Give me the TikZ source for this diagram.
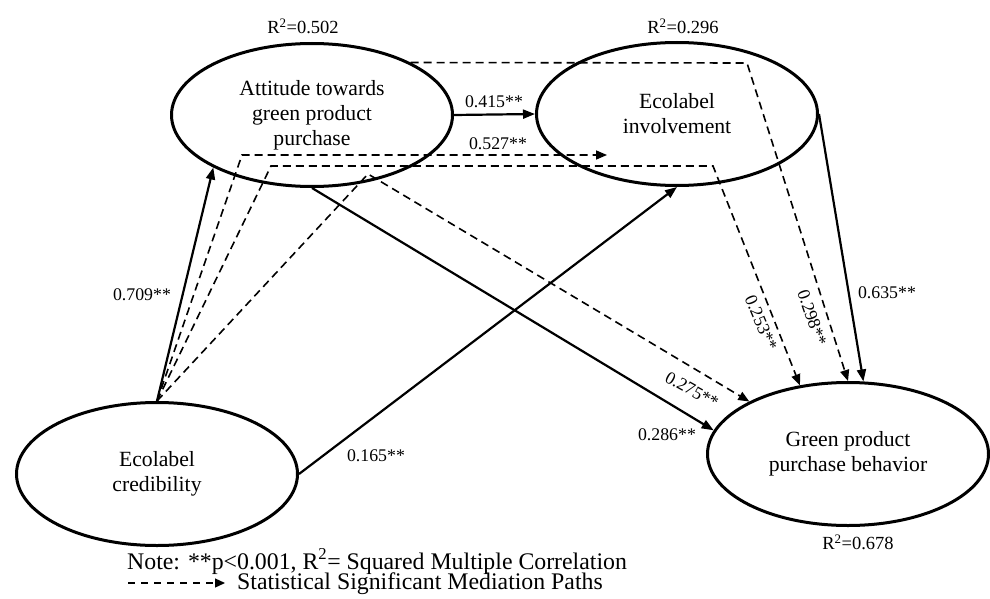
\documentclass[tikz,border=0pt]{standalone}
\usepackage{fontspec}
\setmainfont{Liberation Serif}
\usetikzlibrary{arrows.meta,shapes.geometric}
\tikzset{
  latent/.style={ellipse, draw, line width=3pt, minimum width=281pt, minimum height=143pt, inner sep=0pt, align=center, font=\fontsize{21.7}{25}\selectfont},
  solidpath/.style={line width=2.2pt, -{Triangle[length=12pt,width=9pt]}},
  medpath/.style={line width=1.6pt, dash pattern=on 8pt off 5pt, -{Triangle[length=11pt,width=9pt]}},
  coef/.style={font=\fontsize{17.8}{20}\selectfont, inner sep=0pt},
  rsq/.style={font=\fontsize{18.5}{20}\selectfont, inner sep=0pt},
  notetext/.style={font=\fontsize{23.8}{26}\selectfont, inner sep=0pt, anchor=base west}
}
\begin{document}
\begin{tikzpicture}[x=1pt,y=-1pt]
\useasboundingbox (0,0) rectangle (990,599);
% latent variables
\node[latent] (A) at (312,115) {Attitude towards\\green product\\purchase};
\node[latent] (I) at (677,114) {Ecolabel\\involvement};
\node[latent] (C) at (157,474) {Ecolabel\\credibility};
\node[latent] (G) at (848,454) {Green product\\purchase behavior};
% R squared
\node[rsq] (rA) at (303,26) {R\textsuperscript{2}=0.502};
\node[rsq] (rI) at (683,26) {R\textsuperscript{2}=0.296};
\node[rsq] (rG) at (858,542) {R\textsuperscript{2}=0.678};
% corner coordinates of mediation paths
\coordinate (k1) at (242,155);
\coordinate (e1) at (607,155);
\coordinate (k2) at (271,166);
\coordinate (m2) at (713,166);
\coordinate (k3) at (368,174);
\coordinate (m4) at (747,63);
% solid paths
\draw[solidpath] (A.east) -- (I.west);
\draw[solidpath] (C.north) -- (A.208);
\draw[solidpath] (C.east) -- (I.south);
\draw[solidpath] (A.south) -- (G.170.6);
\draw[solidpath] (I.east) -- (G.78);
% mediation paths
\draw[medpath] (C.north) -- (k1) -- (e1);
\draw[medpath] (C.north) -- (k2) -- (m2) -- (G.125);
\draw[medpath] (C.north) -- (k3) -- (G.152);
\draw[medpath] (A.28) -- (m4) -- (G.north);
% coefficients
\node[coef] (l415) at (494,102) {0.415**};
\node[coef] (l527) at (498,144) {0.527**};
\node[coef] (l709) at (142,295) {0.709**};
\node[coef] (l165) at (376,456) {0.165**};
\node[coef] (l286) at (667,435) {0.286**};
\node[coef] (l635) at (887,293) {0.635**};
\node[coef, rotate=-29] (l275) at (692,390) {0.275**};
\node[coef, rotate=-67] (l253) at (761,323) {0.253**};
\node[coef, rotate=-71] (l298) at (812,318) {0.298**};
% note
\node[notetext] (n1) at (127,569) {Note: **p<0.001, R\textsuperscript{2}= Squared Multiple Correlation};
\coordinate (ls) at (128,583);
\coordinate (le) at (225,583);
\draw[line width=1.3pt, dash pattern=on 7pt off 6pt, -{Triangle[length=10pt,width=9pt]}] (ls) -- (le);
\node[notetext] (n2) at (237,589) {Statistical Significant Mediation Paths};
\end{tikzpicture}
\end{document}
